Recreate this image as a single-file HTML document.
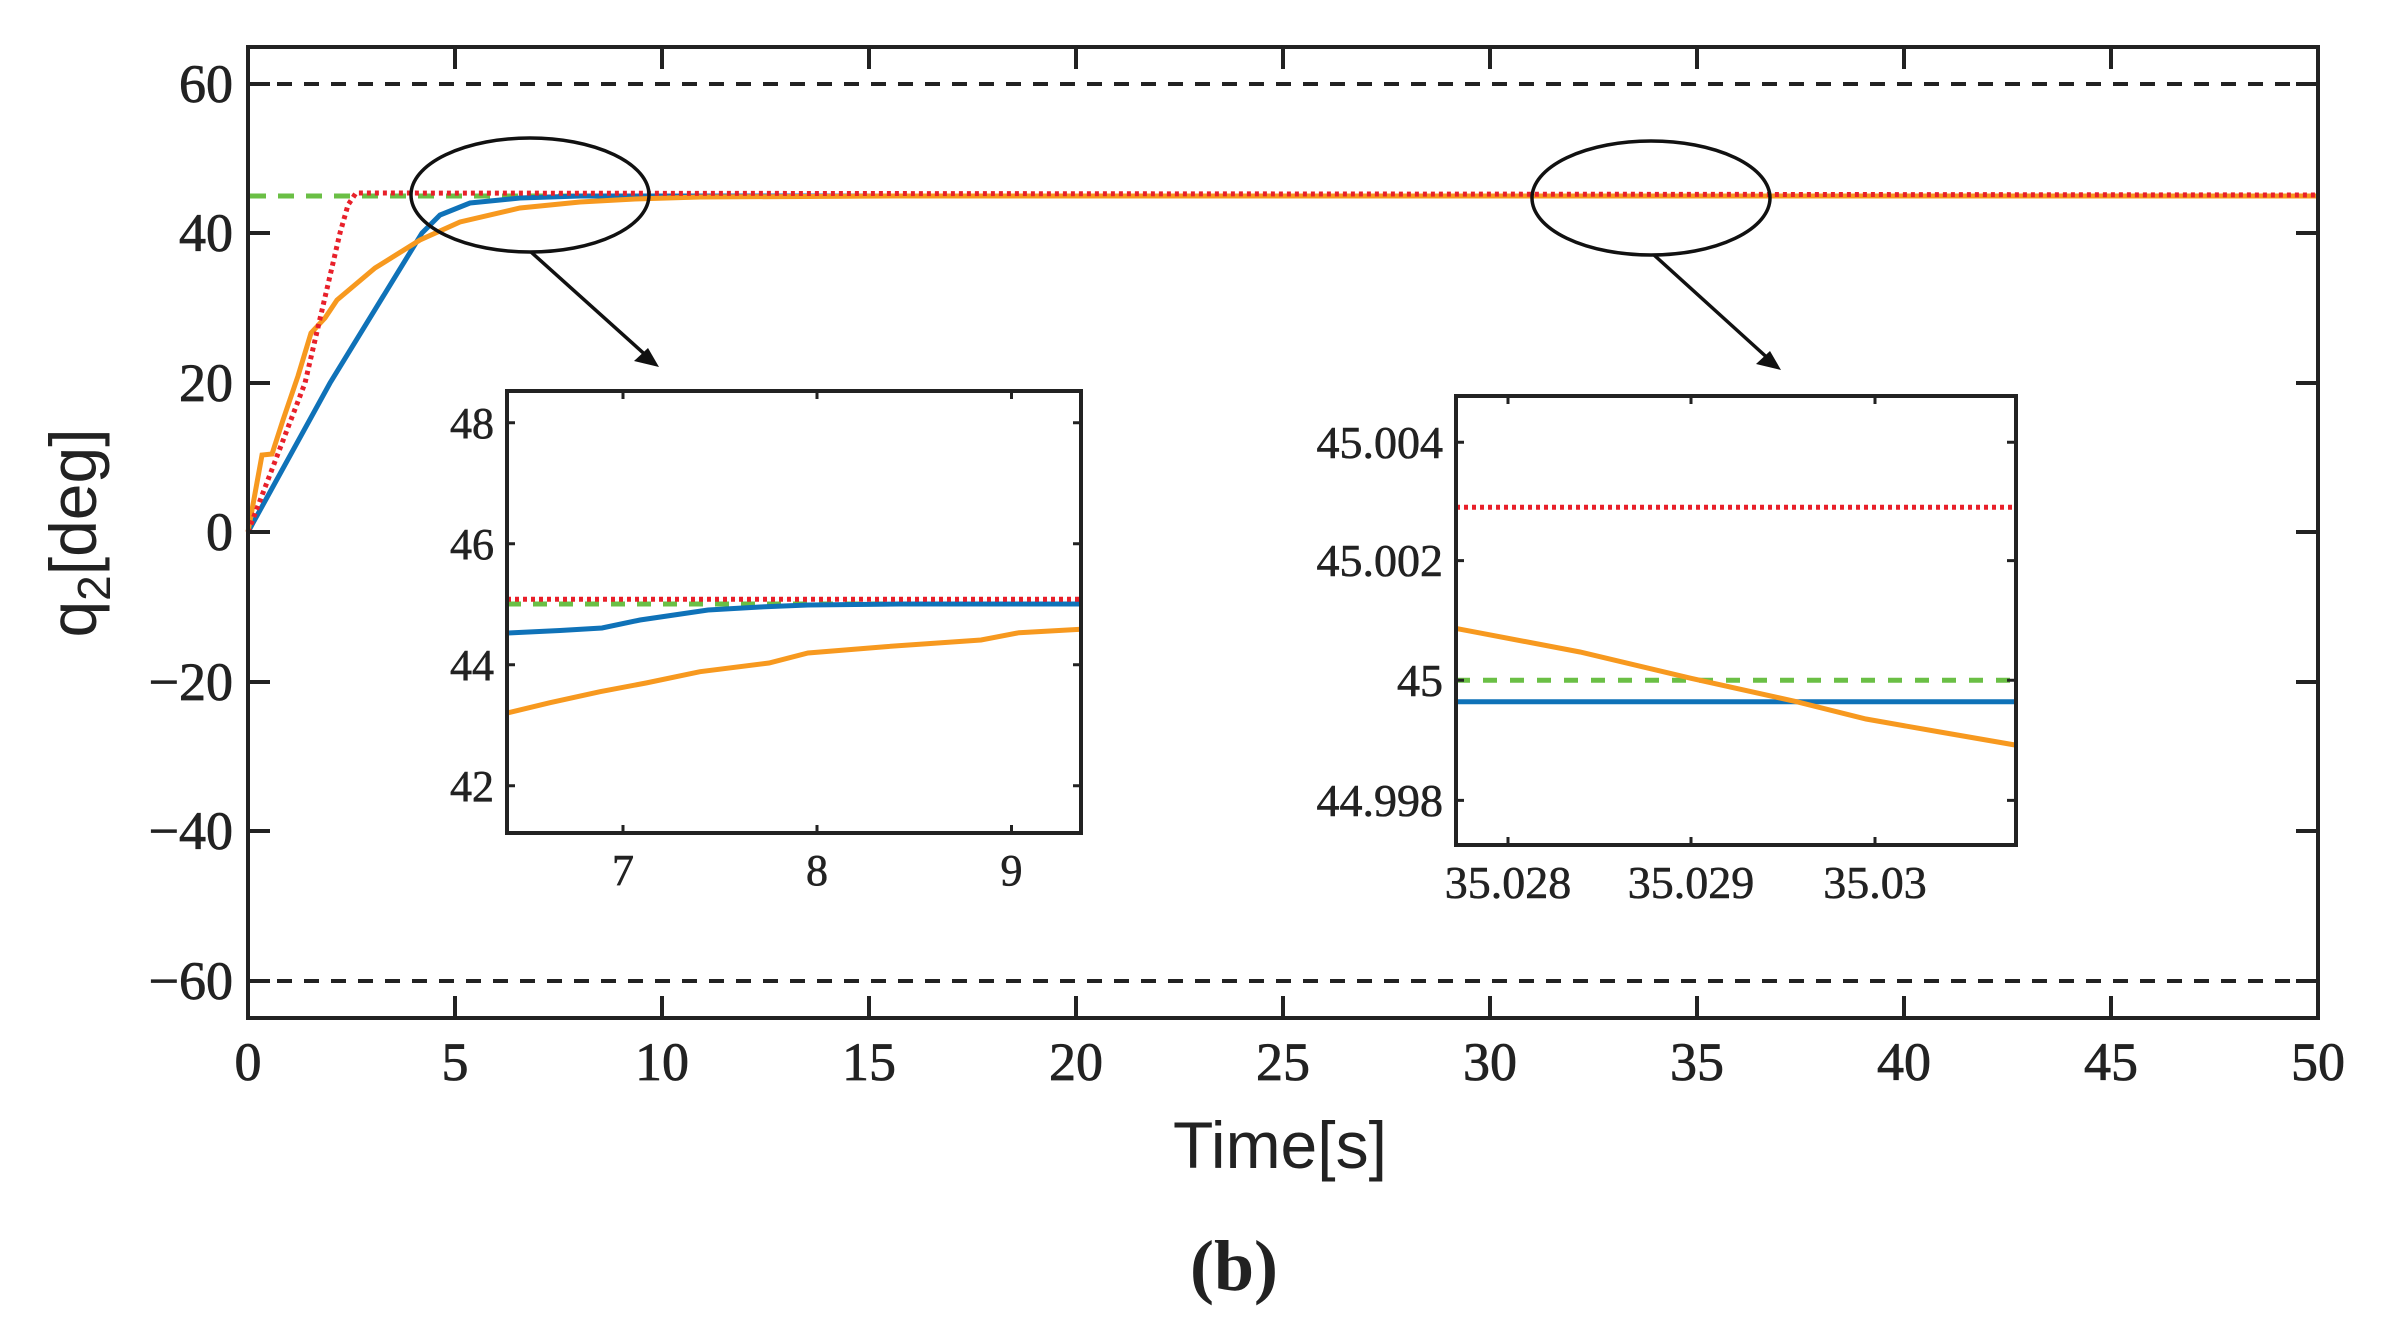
<!DOCTYPE html>
<html><head><meta charset="utf-8"><style>
html,body{margin:0;padding:0;background:#fff;}
svg{display:block;}
.t{font-family:"Liberation Serif",serif;fill:#222;}
.s{font-family:"Liberation Sans",sans-serif;fill:#222;}
</style></head><body>
<svg width="2386" height="1324" viewBox="0 0 2386 1324" xmlns="http://www.w3.org/2000/svg">
<rect width="2386" height="1324" fill="#fff"/>
<line x1="250" y1="84" x2="2316" y2="84" stroke="#222" stroke-width="4" stroke-dasharray="15,12"/>
<line x1="250" y1="981" x2="2316" y2="981" stroke="#222" stroke-width="4" stroke-dasharray="15,12"/>
<line x1="250" y1="196" x2="2316" y2="196" stroke="#6abf45" stroke-width="5" stroke-dasharray="16,12"/>
<polyline fill="none" stroke="#0f72b8" stroke-width="5" points="248,532 330,383 422,233 440,215 470,203 520,198 580,196 2316,196"/>
<polyline fill="none" stroke="#f7991f" stroke-width="5" points="248,532 262,455 272,454 283,420 298,376 311,333 325,318 337,300 375,268 420,240 460,222 520,208 580,202 635,199 700,197 900,196 2316,196"/>
<polyline fill="none" stroke="#e8202a" stroke-width="5" stroke-dasharray="4,4" points="248,532 305,383 340,233 348,205 356,193 2316,195"/>
<rect x="248" y="47" width="2070" height="971" fill="none" stroke="#222" stroke-width="4"/>
<g stroke="#222" stroke-width="4">
<path d="M455,1018v-22M662,1018v-22M869,1018v-22M1076,1018v-22M1283,1018v-22M1490,1018v-22M1697,1018v-22M1904,1018v-22M2111,1018v-22"/>
<path d="M455,47v22M662,47v22M869,47v22M1076,47v22M1283,47v22M1490,47v22M1697,47v22M1904,47v22M2111,47v22"/>
<path d="M248,84h22M248,233h22M248,383h22M248,532h22M248,682h22M248,831h22M248,981h22"/>
<path d="M2318,84h-22M2318,233h-22M2318,383h-22M2318,532h-22M2318,682h-22M2318,831h-22M2318,981h-22"/>
</g>
<g class="t" font-size="54" text-anchor="end" stroke="#222" stroke-width="0.8">
<text x="233" y="102">60</text><text x="233" y="251">40</text><text x="233" y="401">20</text><text x="233" y="550">0</text>
<text x="233" y="700">−20</text><text x="233" y="849">−40</text><text x="233" y="999">−60</text>
</g>
<g class="t" font-size="54" text-anchor="middle" stroke="#222" stroke-width="0.8">
<text x="248" y="1080">0</text><text x="455" y="1080">5</text><text x="662" y="1080">10</text><text x="869" y="1080">15</text><text x="1076" y="1080">20</text><text x="1283" y="1080">25</text><text x="1490" y="1080">30</text><text x="1697" y="1080">35</text><text x="1904" y="1080">40</text><text x="2111" y="1080">45</text><text x="2318" y="1080">50</text>
</g>
<text class="s" font-size="66" x="1280" y="1168" text-anchor="middle">Time[s]</text>
<text class="t" font-size="72" font-weight="bold" x="1234" y="1290" text-anchor="middle">(b)</text>
<text class="s" font-size="66" transform="translate(96,533) rotate(-90)" text-anchor="middle">q<tspan font-size="46" dy="14">2</tspan><tspan dy="-14">[deg]</tspan></text>
<ellipse cx="530" cy="195" rx="119" ry="57" fill="none" stroke="#111" stroke-width="3.5"/>
<ellipse cx="1651" cy="198" rx="119" ry="57" fill="none" stroke="#111" stroke-width="3.5"/>
<line x1="531" y1="252" x2="650" y2="359" stroke="#111" stroke-width="3.5"/>
<polygon points="659,367 634,361 648,348" fill="#111"/>
<line x1="1654" y1="255" x2="1772" y2="362" stroke="#111" stroke-width="3.5"/>
<polygon points="1781,370 1756,364 1770,351" fill="#111"/>
<rect x="507" y="391" width="574" height="442" fill="#fff"/>
<line x1="507" y1="604" x2="1081" y2="604" stroke="#6abf45" stroke-width="5" stroke-dasharray="14,12"/>
<polyline fill="none" stroke="#0f72b8" stroke-width="5" points="507,633 560,630.5 602,628 640,620 708,610 760,607 808,605 900,604 1081,604"/>
<polyline fill="none" stroke="#f7991f" stroke-width="5" points="507,713 550,702.7 600,691.7 646,683 700,671.7 769,663 808,653 885,646.7 981,640 1019,632.7 1081,629.3"/>
<line x1="507" y1="599.3" x2="1081" y2="599.3" stroke="#e8202a" stroke-width="5" stroke-dasharray="4,4"/>
<rect x="507" y="391" width="574" height="442" fill="none" stroke="#222" stroke-width="4"/>
<g stroke="#222" stroke-width="3">
<path d="M623,833v-8M817,833v-8M1011.5,833v-8M623,391v8M817,391v8M1011.5,391v8"/>
<path d="M507,422.7h8M507,543.7h8M507,664.7h8M507,785.7h8M1081,422.7h-8M1081,543.7h-8M1081,664.7h-8M1081,785.7h-8"/>
</g>
<g class="t" font-size="44" text-anchor="end" stroke="#222" stroke-width="0.6">
<text x="494" y="438">48</text><text x="494" y="559">46</text><text x="494" y="680">44</text><text x="494" y="801">42</text>
</g>
<g class="t" font-size="44" text-anchor="middle" stroke="#222" stroke-width="0.6">
<text x="623" y="885">7</text><text x="817" y="885">8</text><text x="1011.5" y="885">9</text>
</g>
<rect x="1456" y="396" width="560" height="449" fill="#fff"/>
<line x1="1456" y1="680.3" x2="2015" y2="680.3" stroke="#6abf45" stroke-width="5" stroke-dasharray="14,13"/>
<line x1="1456" y1="701.8" x2="2015" y2="701.8" stroke="#0f72b8" stroke-width="5"/>
<polyline fill="none" stroke="#f7991f" stroke-width="5" points="1456,628.4 1580,652 1691,678.3 1797,701.8 1866,719 1940,732 2015,745"/>
<line x1="1456" y1="507.3" x2="2015" y2="507.3" stroke="#e8202a" stroke-width="5" stroke-dasharray="4,4"/>
<rect x="1456" y="396" width="560" height="449" fill="none" stroke="#222" stroke-width="4"/>
<g stroke="#222" stroke-width="3">
<path d="M1508,845v-8M1691,845v-8M1875,845v-8M1508,396v8M1691,396v8M1875,396v8"/>
<path d="M1456,442.3h8M1456,560.6h8M1456,680.3h8M1456,800.4h8M2015,442.3h-8M2015,560.6h-8M2015,680.3h-8M2015,800.4h-8"/>
</g>
<g class="t" font-size="46" text-anchor="end" stroke="#222" stroke-width="0.6">
<text x="1443" y="458">45.004</text><text x="1443" y="576">45.002</text><text x="1443" y="696">45</text><text x="1443" y="816">44.998</text>
</g>
<g class="t" font-size="46" text-anchor="middle" stroke="#222" stroke-width="0.6">
<text x="1508" y="898">35.028</text><text x="1691" y="898">35.029</text><text x="1875" y="898">35.03</text>
</g>
</svg>
</body></html>
